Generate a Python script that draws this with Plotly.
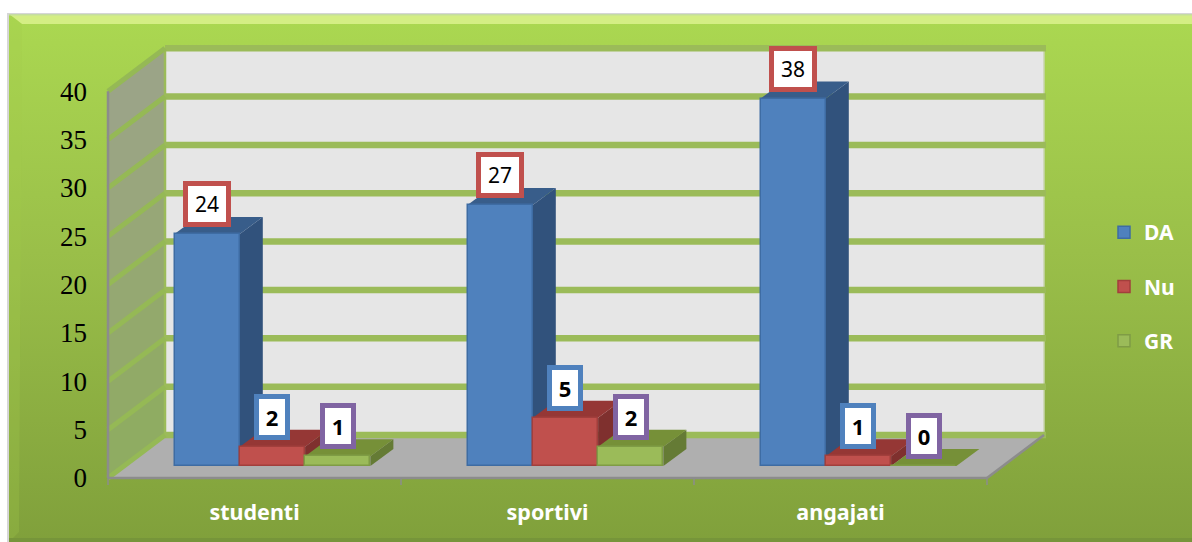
import base64
import plotly.graph_objects as go

categories = ["studenti", "sportivi", "angajati"]
da_values = [24, 27, 38]
nu_values = [2, 5, 1]
gr_values = [1, 2, 0]
y_ticks = [0, 5, 10, 15, 20, 25, 30, 35, 40]

W, H = 1192, 542
PX_PER_CAT = 293.0
PX_PER_VAL = 9.67
X0_PX, Y0_PX = 108.0, 478.0


def dx(px):
    return px / PX_PER_CAT


def dy(px):
    return px / PX_PER_VAL


WALL_DX, WALL_DY = dx(57), dy(43)
BAR_W = dx(65.3)
BAR_X0 = dx(66.5)
BAR_BASE = dy(12)
BAR_DX, BAR_DY = dx(23), dy(17)
X_END = len(categories)

series = [
    dict(name="DA", values=da_values, front="#4F81BD", edge="#3E6CA3", top="#385D8A", side="#31527C", box="#C0504D", bold=False),
    dict(name="Nu", values=nu_values, front="#C0504D", edge="#A23F3C", top="#953735", side="#7F302E", box="#4F81BD", bold=True),
    dict(name="GR", values=gr_values, front="#9BBB59", edge="#7F9C45", top="#769038", side="#657B35", box="#8064A2", bold=True),
]

svg = f'''<svg xmlns="http://www.w3.org/2000/svg" width="{W}" height="{H}" viewBox="0 0 {W} {H}">
<defs><linearGradient id="g" x1="0" y1="0" x2="0" y2="1">
<stop offset="0" stop-color="#ABD851"/><stop offset="0.45" stop-color="#9ABF49"/><stop offset="1" stop-color="#80A03B"/>
</linearGradient></defs>
<rect x="7" y="13" width="1185" height="529" fill="#8A8A8A" opacity="0.35"/>
<rect x="9" y="14" width="1183" height="528" fill="url(#g)"/>
<polygon points="9,14 1192,14 1192,24 22,24" fill="#D4EE84"/>
<polygon points="9,14 22,24 19,532 9,542" fill="#A3CC4C" opacity="0.25"/>
<rect x="9" y="538" width="1183" height="4" fill="#76953A"/>
<rect x="9" y="14" width="1183" height="1.5" fill="#C5DDA0"/>
</svg>'''
svg_uri = "data:image/svg+xml;base64," + base64.b64encode(svg.encode()).decode()

shapes = []


def poly(points, fill, line=None, width=0):
    path = "M" + " L".join(f"{x:.5f},{y:.5f}" for x, y in points) + " Z"
    shapes.append(dict(type="path", path=path, xref="x", yref="y", layer="below",
                       fillcolor=fill, line=dict(color=line or fill, width=width)))


def seg(x0, y0, x1, y1, color, width):
    shapes.append(dict(type="line", x0=x0, y0=y0, x1=x1, y1=y1, xref="x", yref="y",
                       layer="below", line=dict(color=color, width=width)))


# back wall, floor, side wall
poly([(WALL_DX, WALL_DY), (X_END + WALL_DX, WALL_DY), (X_END + WALL_DX, 40 + WALL_DY), (WALL_DX, 40 + WALL_DY)], "#E6E6E6")
poly([(0, 0), (WALL_DX, WALL_DY), (X_END + WALL_DX, WALL_DY), (X_END, 0)], "#AFAFAF")
wall_colors = ["#8FAC62", "#91AA67", "#93A96C", "#95A872", "#97A777", "#99A67D", "#9AA582", "#9BA487"]
for i, c in enumerate(wall_colors):
    v = y_ticks[i]
    n = y_ticks[i + 1]
    poly([(0, v), (WALL_DX, v + WALL_DY), (WALL_DX, n + WALL_DY), (0, n)], c)

# gridlines
seg(WALL_DX, WALL_DY, WALL_DX, 40 + WALL_DY, "#9BBB59", 2.5)
seg(X_END + WALL_DX, WALL_DY, X_END + WALL_DX, 40 + WALL_DY, "#C9D4AE", 1.5)
for v in y_ticks:
    seg(WALL_DX, v + WALL_DY, X_END + WALL_DX + dx(2), v + WALL_DY, "#9BBB59", 6.5)
    seg(0, v, WALL_DX, v + WALL_DY, "#95B955", 5)

# axis edges and ticks
seg(0, 0, 0, 40, "#8C8C8C", 2.5)
seg(0, 0, X_END, 0, "#8C8C8C", 2.5)
seg(X_END, 0, X_END + WALL_DX, WALL_DY, "#8C8C8C", 2.5)
for i in range(len(categories) + 1):
    seg(i, 0, i, -dy(7), "#8C8C8C", 1.5)

# side and top faces of the bars
for ci in range(len(categories)):
    for si, s in enumerate(series):
        v = s["values"][ci]
        x0 = ci + BAR_X0 + si * BAR_W
        x1 = x0 + BAR_W
        b = BAR_BASE
        t = BAR_BASE + v
        if v > 0:
            poly([(x1, b), (x1 + BAR_DX, b + BAR_DY), (x1 + BAR_DX, t + BAR_DY), (x1, t)], s["side"])
        poly([(x0, t), (x0 + BAR_DX, t + BAR_DY), (x1 + BAR_DX, t + BAR_DY), (x1, t)], s["top"])

fig = go.Figure()
annotations = []
for si, s in enumerate(series):
    xs = [ci + BAR_X0 + (si + 0.5) * BAR_W for ci in range(len(categories))]
    fig.add_trace(go.Bar(
        x=xs, y=s["values"], base=BAR_BASE, width=BAR_W, name=s["name"], legendgroup=s["name"],
        marker=dict(color=s["front"], line=dict(color=s["edge"], width=1.5)),
    ))
    for x, v in zip(xs, s["values"]):
        text = f"<b>{v}</b>" if s["bold"] else str(v)
        annotations.append(dict(
            x=x, y=BAR_BASE + v, xref="x", yref="y", text=text, showarrow=False,
            yshift=30, xanchor="center", yanchor="middle",
            width=38 if not s["bold"] else 26, height=36, align="center", valign="middle",
            bgcolor="white", bordercolor=s["box"], borderwidth=5, borderpad=0,
            font=dict(family="Noto Sans", size=21 if not s["bold"] else 22, color="black"),
        ))

fig.update_layout(
    width=W, height=H, margin=dict(l=0, r=0, t=0, b=0), autosize=False,
    paper_bgcolor="white", plot_bgcolor="rgba(0,0,0,0)",
    barmode="overlay", bargap=0, shapes=shapes, annotations=annotations,
    images=[dict(source=svg_uri, xref="paper", yref="paper", x=0, y=1, sizex=1, sizey=1,
                 sizing="stretch", xanchor="left", yanchor="top", layer="below")],
    xaxis=dict(range=[-X0_PX / PX_PER_CAT, (W - X0_PX) / PX_PER_CAT], tickmode="array",
               tickvals=[i + 0.5 for i in range(len(categories))],
               ticktext=[f"<b>{c}</b>" for c in categories],
               tickfont=dict(family="Noto Sans", size=21.5, color="white"),
               showgrid=False, zeroline=False, showline=False, ticks="",
               anchor="free", position=(H - Y0_PX) / H, ticklabelstandoff=19),
    yaxis=dict(range=[-(H - Y0_PX) / PX_PER_VAL, Y0_PX / PX_PER_VAL], tickmode="array",
               tickvals=y_ticks, ticktext=[str(v) for v in y_ticks],
               tickfont=dict(family="Liberation Serif", size=27, color="black"),
               showgrid=False, zeroline=False, showline=False, ticks="",
               anchor="free", position=X0_PX / W, ticklabelstandoff=21),
    legend=dict(x=1104 / W, y=(H - 212) / H, xanchor="left", yanchor="top",
                bgcolor="rgba(0,0,0,0)", tracegroupgap=24, itemclick=False,
                font=dict(family="Noto Sans", size=21, color="white", weight="bold")),
    showlegend=True,
)

fig.write_html("out.html", config={"displayModeBar": False},
               post_script="document.body.style.margin='0';")
